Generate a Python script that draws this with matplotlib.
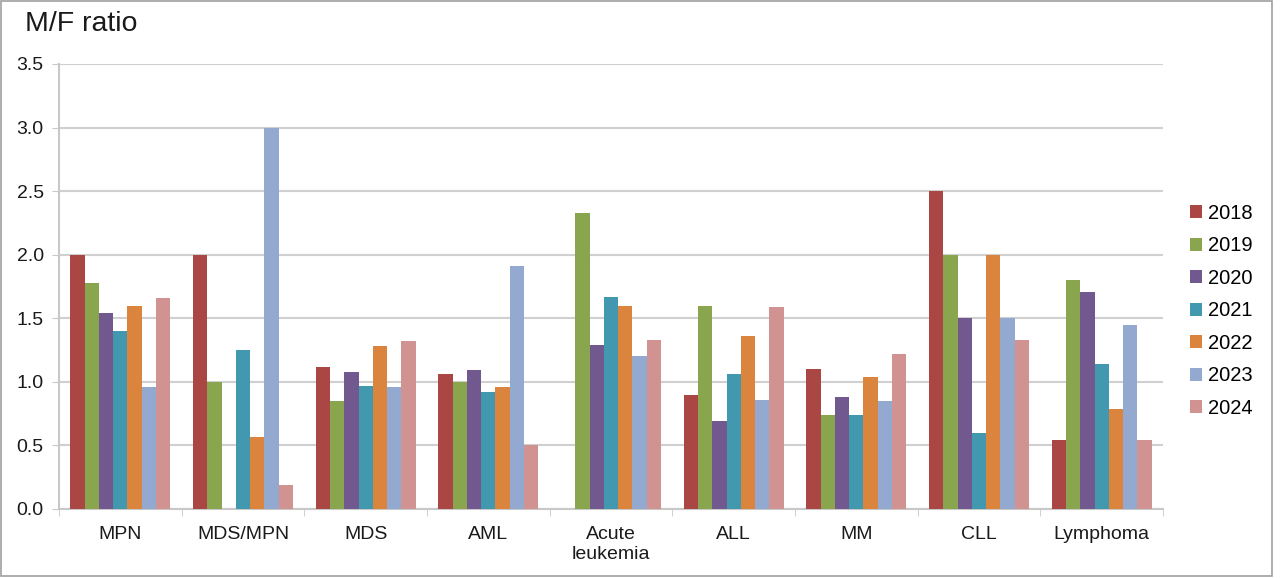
import matplotlib.pyplot as plt
import numpy as np
from matplotlib.patches import Rectangle

plt.rcParams['font.family'] = ['Liberation Sans', 'DejaVu Sans']

categories = ["MPN", "MDS/MPN", "MDS", "AML", "Acute\nleukemia",
              "ALL", "MM", "CLL", "Lymphoma"]
years = ["2018", "2019", "2020", "2021", "2022", "2023", "2024"]

# M/F ratio per year, one value per category (0 = no bar)
r2018 = [2.00, 2.00, 1.12, 1.06, 0.00, 0.90, 1.10, 2.50, 0.54]
r2019 = [1.78, 1.00, 0.85, 1.00, 2.33, 1.60, 0.74, 2.00, 1.80]
r2020 = [1.54, 0.00, 1.08, 1.09, 1.29, 0.69, 0.88, 1.50, 1.71]
r2021 = [1.40, 1.25, 0.97, 0.92, 1.67, 1.06, 0.74, 0.60, 1.14]
r2022 = [1.60, 0.57, 1.28, 0.96, 1.60, 1.36, 1.04, 2.00, 0.79]
r2023 = [0.96, 3.00, 0.96, 1.91, 1.20, 0.86, 0.85, 1.50, 1.45]
r2024 = [1.66, 0.19, 1.32, 0.50, 1.33, 1.59, 1.22, 1.33, 0.54]

series = [r2018, r2019, r2020, r2021, r2022, r2023, r2024]
colors = ["#AA4643", "#89A54E", "#71588F", "#4198AF",
          "#DB843D", "#93A9CF", "#D19392"]

fig = plt.figure(figsize=(12.8, 5.78), dpi=100)
ax = fig.add_axes([0.0461, 0.1194, 0.8625, 0.7699])

x = np.arange(len(categories))
width = 0.1166
offset = (len(series) - 1) / 2

for i, (vals, year, col) in enumerate(zip(series, years, colors)):
    ax.bar(x + (i - offset) * width, vals, width, color=col, label=year,
           zorder=3)

ax.set_xlim(-0.5, len(categories) - 0.5)
ax.set_ylim(0, 3.5)
ax.set_yticks(np.arange(0, 3.51, 0.5))
ax.set_yticklabels([f"{v:.1f}" for v in np.arange(0, 3.51, 0.5)])
ax.yaxis.grid(True, color="#D0D0D0", linewidth=1.5, zorder=0)

ax.set_xticks(x)
ax.set_xticklabels(categories, linespacing=1.25)
ax.set_xticks(np.arange(-0.5, len(categories)), minor=True)
ax.tick_params(axis="x", which="major", length=0, pad=12, labelsize=14,
               colors="#1a1a1a")
ax.tick_params(axis="x", which="minor", length=5, color="#C8C8C8",
               direction="out")
ax.tick_params(axis="y", length=5, color="#C8C8C8", labelsize=14,
               colors="#1a1a1a", pad=6)

for side in ["top", "right"]:
    ax.spines[side].set_visible(False)
for side in ["left", "bottom"]:
    ax.spines[side].set_color("#C8C8C8")
    ax.spines[side].set_linewidth(1.5)

fig.text(0.0195, 0.958, "M/F ratio", fontsize=20.5, color="#1a1a1a",
         va="center", ha="left")

fig.legend(loc="center left", bbox_to_anchor=(0.922, 0.462), frameon=False,
           fontsize=14.5, handlelength=0.6, handleheight=0.6,
           handletextpad=0.3, labelspacing=0.67, borderpad=0)

fig.patches.append(Rectangle((0.001, 0.004), 0.993, 0.994,
                             transform=fig.transFigure, fill=False,
                             edgecolor="#A0A0A0", linewidth=1.2))

fig.savefig("out.png", dpi=100)
